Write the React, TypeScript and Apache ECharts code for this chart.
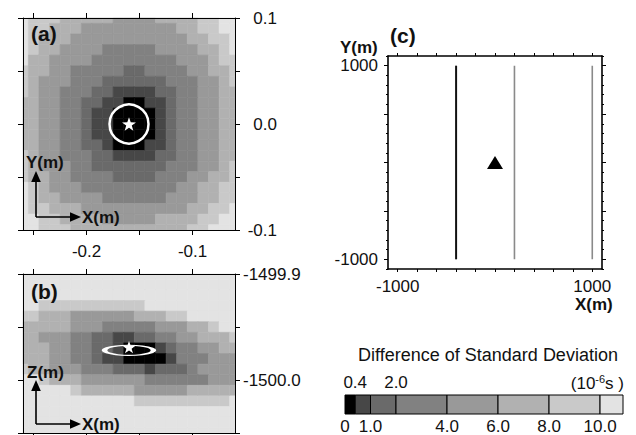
import React, { useEffect, useRef } from 'react';
import * as echarts from 'echarts';

const FONT = '"Liberation Sans", Arial, Helvetica, sans-serif';

// grey levels of the colour scale (index 0 = darkest)
const LEVEL_COLORS = ['#000000', '#474747', '#6a6a6a', '#818181', '#999999', '#b1b1b1', '#c9c9c9', '#e3e3e3'];
const LEVEL_EDGES = [0, 0.4, 1.0, 2.0, 4.0, 6.0, 8.0, 10.0, 10.9];
const LEGEND_BOTTOM_LABELS = [0, 1, 4, 6, 8, 10];
const LEGEND_TOP_LABELS = [0.4, 2.0];

// cell centres
const X_CELLS = [-0.26, -0.25, -0.24, -0.23, -0.22, -0.21, -0.2, -0.19, -0.18, -0.17, -0.16, -0.15, -0.14, -0.13, -0.12, -0.11, -0.1, -0.09, -0.08, -0.07, -0.06];
const Y_CELLS_A = [0.1, 0.09, 0.08, 0.07, 0.06, 0.05, 0.04, 0.03, 0.02, 0.01, 0.0, -0.01, -0.02, -0.03, -0.04, -0.05, -0.06, -0.07, -0.08, -0.09, -0.1];
const Z_CELLS_B = [-1499.9, -1499.91, -1499.92, -1499.93, -1499.94, -1499.95, -1499.96, -1499.97, -1499.98, -1499.99, -1500.0, -1500.01, -1500.02, -1500.03, -1500.04, -1500.05];

// level index of each cell, one string per row (top row first)
const GRID_A = [
  '766655555444455556677',
  '766555444444444556677',
  '765554444444444455667',
  '765544443333344445567',
  '755444433333333444566',
  '655443333322333344556',
  '654443332222223334456',
  '654433322111122334455',
  '554433221100112334455',
  '554433211000012334455',
  '554433211000012334455',
  '554433211000012334455',
  '554433221000112334455',
  '654433322111122334455',
  '654443322222223334456',
  '655443333222233344556',
  '765444333333333445566',
  '765544443333334445566',
  '766555444444444455667',
  '776655554444455556677',
  '776665555555555566777',
];
const GRID_B = [
  '777777777777777777777',
  '777777777777777777777',
  '777777777777777777777',
  '776666666666777777777',
  '665554444445556677777',
  '555554443333344455677',
  '554443322112233445556',
  '555443322100012334455',
  '555443321100001333444',
  '655444333222122234444',
  '776555444444333333444',
  '777776555554444455555',
  '777777777776666666667',
  '777777777777777777777',
  '777777777777777777777',
  '777777777777777777777',
];

const X_TICKS_AB = [-0.25, -0.2, -0.15, -0.1];
const X_LABELS_AB = [-0.2, -0.1];
const Y_TICKS_A = [-0.1, -0.05, 0, 0.05, 0.1];
const Y_LABELS_A = [0.1, 0.0, -0.1];
const Z_TICKS_B = [-1500.05, -1500.0, -1499.95, -1499.9];
const Z_LABELS_B = [-1499.9, -1500.0];

const C_X_TICKS = [-1000, -800, -600, -400, -200, 0, 200, 400, 600, 800, 1000];
const C_Y_MAJOR = [-1000, -500, 0, 500, 1000];
const C_LABELS = [-1000, 1000];

const SOURCE_A = [-0.16, 0.0];
const SOURCE_B = [-0.16, -1499.969];
const ELLIPSE_B = [-0.16, -1499.972];
const LINE_XS = [-400, 200, 1000];
const LINE_COLORS = ['#111111', '#8a8a8a', '#8a8a8a'];
const LINE_Y = [-1000, 1000];
const STATION = [0, 0];

const STAR = 'path://M0,-10L2.35,-3.24L9.51,-3.09L3.8,1.24L5.88,8.09L0,4L-5.88,8.09L-3.8,1.24L-9.51,-3.09L-2.35,-3.24Z';

function cellData(grid: string[], rows: number[]) {
  const out: number[][] = [];
  grid.forEach((row, r) => {
    for (let c = 0; c < row.length; c++) out.push([X_CELLS[c], rows[r], Number(row[c])]);
  });
  return out;
}

const HALF = 0.005;
function renderCell(params: any, api: any) {
  const x = api.value(0);
  const y = api.value(1);
  const p1 = api.coord([x - HALF, y + HALF]);
  const p2 = api.coord([x + HALF, y - HALF]);
  const cs = params.coordSys;
  const rect = echarts.graphic.clipRectByRect(
    { x: p1[0], y: p1[1], width: p2[0] - p1[0], height: p2[1] - p1[1] },
    { x: cs.x, y: cs.y, width: cs.width, height: cs.height }
  );
  if (!rect) return null;
  const col = LEVEL_COLORS[api.value(2)];
  return { type: 'rect', shape: rect, style: { fill: col, stroke: col, lineWidth: 0.6 } };
}

function renderBar(params: any, api: any) {
  const p1 = api.coord([api.value(0), 1]);
  const p2 = api.coord([api.value(1), 0]);
  return {
    type: 'rect',
    shape: { x: p1[0], y: p1[1], width: p2[0] - p1[0], height: p2[1] - p1[1] },
    style: { fill: LEVEL_COLORS[api.value(2)], stroke: '#000', lineWidth: 1 },
  };
}

const fmt1 = (v: number) => v.toFixed(1);

function axis(kind: 'x' | 'y', gridIndex: number, position: string, min: number, max: number, ticks: number[] | null, labels: number[] | null, o: any = {}) {
  const a: any = {
    type: 'value',
    gridIndex,
    position,
    min,
    max,
    z: 10,
    splitLine: { show: false },
    axisLine: { show: o.line !== false, onZero: false, lineStyle: { color: '#000', width: o.lw ?? 1 } },
    axisTick: ticks
      ? { show: true, inside: false, length: o.tickLen ?? 5, customValues: ticks, lineStyle: { color: '#000', width: 1 } }
      : { show: false },
    axisLabel: labels
      ? {
          show: true,
          customValues: labels,
          margin: o.margin ?? 8,
          fontSize: o.fontSize ?? 17,
          fontFamily: FONT,
          color: '#111',
          align: o.align,
          formatter: o.fmt ?? fmt1,
        }
      : { show: false },
  };
  if (o.interval) {
    a.interval = o.interval;
    a.axisTick = { show: true, inside: false, length: o.tickLen ?? 2, lineStyle: { color: '#000', width: 1 } };
  }
  return a;
}

function txt(x: number, y: number, text: string, size: number, bold: boolean, align = 'left') {
  return {
    type: 'text',
    x,
    y,
    z: 100,
    style: {
      text,
      fontSize: size,
      fontWeight: bold ? 'bold' : 'normal',
      fontFamily: FONT,
      fill: '#111',
      align,
      verticalAlign: 'middle',
    },
  };
}

function arrowGroup(ox: number, oy: number, topY: number, rightX: number) {
  const s = { stroke: '#000', lineWidth: 1.6 };
  return [
    { type: 'line', z: 100, shape: { x1: ox, y1: oy, x2: ox, y2: topY + 10 }, style: s },
    { type: 'polygon', z: 100, shape: { points: [[ox, topY], [ox - 4.8, topY + 11], [ox + 4.8, topY + 11]] }, style: { fill: '#000' } },
    { type: 'line', z: 100, shape: { x1: ox, y1: oy, x2: rightX - 10, y2: oy }, style: s },
    { type: 'polygon', z: 100, shape: { points: [[rightX, oy], [rightX - 11, oy - 4.8], [rightX - 11, oy + 4.8]] }, style: { fill: '#000' } },
  ];
}

export default function App() {
  const ref = useRef<HTMLDivElement>(null);
  useEffect(() => {
    if (!ref.current) return;
    const chart = echarts.init(ref.current, undefined, { renderer: 'svg' });

    const barData = LEVEL_COLORS.map((_, i) => [LEVEL_EDGES[i], LEVEL_EDGES[i + 1], i]);
    const ring = { color: 'rgba(0,0,0,0)', borderColor: '#fff', borderWidth: 2.5, opacity: 1 };

    const option: any = {
      animation: false,
      grid: [
        { left: 23, top: 18, width: 212, height: 212 },
        { left: 23, top: 274, width: 212, height: 159 },
        { left: 388, top: 56, width: 214, height: 213 },
        { left: 345, top: 395, width: 278, height: 20 },
      ],
      xAxis: [
        axis('x', 0, 'bottom', -0.26, -0.06, X_TICKS_AB, X_LABELS_AB, { margin: 13 }),
        axis('x', 0, 'top', -0.26, -0.06, X_TICKS_AB, null),
        axis('x', 1, 'top', -0.26, -0.06, X_TICKS_AB, null),
        axis('x', 1, 'bottom', -0.26, -0.06, X_TICKS_AB, null),
        axis('x', 2, 'bottom', -1100, 1100, C_X_TICKS, C_LABELS, { lw: 1.6, tickLen: 3, margin: 9, fmt: (v: number) => String(v) }),
        axis('x', 2, 'top', -1100, 1100, C_X_TICKS, null, { lw: 1.6, tickLen: 3 }),
        axis('x', 3, 'bottom', 0, 10.9, null, LEGEND_BOTTOM_LABELS, { line: false, margin: 4, fmt: (v: number) => (v === 0 ? '0' : v.toFixed(1)) }),
        axis('x', 3, 'top', 0, 10.9, null, LEGEND_TOP_LABELS, { line: false, margin: 4 }),
      ],
      yAxis: [
        axis('y', 0, 'left', -0.1, 0.1, Y_TICKS_A, null),
        axis('y', 0, 'right', -0.1, 0.1, Y_TICKS_A, Y_LABELS_A, { align: 'right', margin: 42 }),
        axis('y', 1, 'left', -1500.05, -1499.9, Z_TICKS_B, null),
        axis('y', 1, 'right', -1500.05, -1499.9, Z_TICKS_B, Z_LABELS_B, { margin: 8 }),
        axis('y', 2, 'left', -1100, 1100, C_Y_MAJOR, C_LABELS, { lw: 1.6, tickLen: 4, margin: 10, fmt: (v: number) => String(v) }),
        axis('y', 2, 'left', -1100, 1100, null, null, { line: false, interval: 100, tickLen: 2 }),
        axis('y', 2, 'right', -1100, 1100, C_Y_MAJOR, null, { lw: 1.6, tickLen: 4 }),
        axis('y', 2, 'right', -1100, 1100, null, null, { line: false, interval: 100, tickLen: 2 }),
        { type: 'value', gridIndex: 3, min: 0, max: 1, show: false },
      ],
      series: [
        { type: 'custom', xAxisIndex: 0, yAxisIndex: 0, renderItem: renderCell, data: cellData(GRID_A, Y_CELLS_A), silent: true, z: 2 },
        { type: 'custom', xAxisIndex: 2, yAxisIndex: 2, renderItem: renderCell, data: cellData(GRID_B, Z_CELLS_B), silent: true, z: 2 },
        { type: 'scatter', xAxisIndex: 0, yAxisIndex: 0, data: [SOURCE_A], symbol: 'circle', symbolSize: 39, itemStyle: ring, silent: true, z: 5 },
        { type: 'scatter', xAxisIndex: 0, yAxisIndex: 0, data: [SOURCE_A], symbol: STAR, symbolKeepAspect: true, symbolSize: 14, itemStyle: { color: '#fff', opacity: 1 }, silent: true, z: 6 },
        { type: 'scatter', xAxisIndex: 2, yAxisIndex: 2, data: [ELLIPSE_B], symbol: 'circle', symbolSize: [49, 10], itemStyle: ring, silent: true, z: 5 },
        { type: 'scatter', xAxisIndex: 2, yAxisIndex: 2, data: [SOURCE_B], symbol: STAR, symbolKeepAspect: true, symbolSize: 13, itemStyle: { color: '#fff', opacity: 1 }, silent: true, z: 6 },
        ...LINE_XS.map((x, i) => ({
          type: 'line',
          xAxisIndex: 4,
          yAxisIndex: 4,
          data: LINE_Y.map((y) => [x, y]),
          symbol: 'none',
          lineStyle: { color: LINE_COLORS[i], width: i === 0 ? 2 : 1.6, opacity: 1 },
          silent: true,
        })),
        { type: 'scatter', xAxisIndex: 4, yAxisIndex: 4, data: [STATION], symbol: 'triangle', symbolSize: [16, 13], itemStyle: { color: '#000', opacity: 1 }, silent: true },
        { type: 'custom', xAxisIndex: 6, yAxisIndex: 8, renderItem: renderBar, encode: { x: [0, 1] }, data: barData, silent: true },
      ],
      graphic: [
        txt(31, 33, '(a)', 21, true),
        txt(26, 162, 'Y(m)', 17, true),
        txt(82, 217.5, 'X(m)', 17, true),
        ...arrowGroup(36, 217, 171, 81),
        txt(31, 291.5, '(b)', 21, true),
        txt(27, 372, 'Z(m)', 17, true),
        txt(82, 424, 'X(m)', 17, true),
        ...arrowGroup(36, 424, 380, 81),
        txt(390, 35, '(c)', 21, true),
        txt(340, 47, 'Y(m)', 17, true),
        txt(575, 304, 'X(m)', 17, true),
        txt(488, 355, 'Difference of Standard Deviation', 18, false, 'center'),
        {
          type: 'text',
          x: 624,
          y: 383,
          z: 100,
          style: {
            text: '{a|(10}{b|-6}{a|s )}',
            align: 'right',
            verticalAlign: 'middle',
            fill: '#111',
            rich: {
              a: { fontSize: 17, fontFamily: FONT, fill: '#111' },
              b: { fontSize: 11, fontFamily: FONT, fill: '#111', padding: [0, 0, 9, 0] },
            },
          },
        },
      ],
    };

    chart.setOption(option);
    return () => chart.dispose();
  }, []);

  return <div ref={ref} style={{ position: 'fixed', left: 0, top: 0, width: 636, height: 435, background: '#fff' }} />;
}
